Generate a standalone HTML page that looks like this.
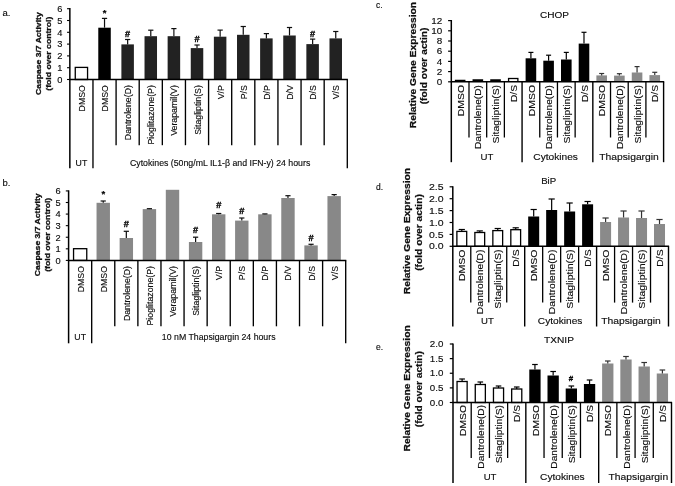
<!DOCTYPE html>
<html>
<head>
<meta charset="utf-8">
<title>Figure</title>
<style>
html, body { margin: 0; padding: 0; background: #fff; }
body { width: 675px; height: 486px; overflow: hidden; font-family: 'Liberation Sans', sans-serif; }
svg { display: block; font-family: "Liberation Sans", sans-serif; }
</style>
</head>
<body>
<svg width="675" height="486" viewBox="0 0 675 486">
<defs><filter id="soft" x="0" y="0" width="675" height="486" filterUnits="userSpaceOnUse"><feGaussianBlur stdDeviation="0.3"/></filter></defs>
<rect x="0" y="0" width="675" height="486" fill="#ffffff"/>
<g filter="url(#soft)">
<text x="2.50" y="16.00" font-size="9.5" text-anchor="start" stroke="#0a0a0a" stroke-width="0.12" fill="#0a0a0a">a.</text>
<rect x="75.26" y="67.40" width="12.30" height="12.10" fill="#fff" stroke="#000" stroke-width="1.3"/>
<rect x="98.28" y="27.70" width="12.50" height="51.80" fill="#000"/>
<line x1="104.53" y1="18.40" x2="104.53" y2="27.70" stroke="#111" stroke-width="1.2"/>
<line x1="101.93" y1="18.40" x2="107.13" y2="18.40" stroke="#111" stroke-width="1.2"/>
<text x="104.53" y="15.70" font-size="9.5" text-anchor="middle" font-weight="bold" stroke="#000" stroke-width="0.2" fill="#000">*</text>
<rect x="121.40" y="44.40" width="12.50" height="35.10" fill="#222"/>
<line x1="127.65" y1="39.50" x2="127.65" y2="44.40" stroke="#111" stroke-width="1.2"/>
<line x1="125.05" y1="39.50" x2="130.25" y2="39.50" stroke="#111" stroke-width="1.2"/>
<text x="127.65" y="36.80" font-size="9.2" text-anchor="middle" font-weight="bold" stroke="#000" stroke-width="0.35" fill="#000">#</text>
<rect x="144.52" y="36.20" width="12.50" height="43.30" fill="#222"/>
<line x1="150.77" y1="30.20" x2="150.77" y2="36.20" stroke="#111" stroke-width="1.2"/>
<line x1="148.17" y1="30.20" x2="153.37" y2="30.20" stroke="#111" stroke-width="1.2"/>
<rect x="167.64" y="36.20" width="12.50" height="43.30" fill="#222"/>
<line x1="173.89" y1="28.60" x2="173.89" y2="36.20" stroke="#111" stroke-width="1.2"/>
<line x1="171.29" y1="28.60" x2="176.49" y2="28.60" stroke="#111" stroke-width="1.2"/>
<rect x="190.76" y="48.10" width="12.50" height="31.40" fill="#222"/>
<line x1="197.01" y1="45.00" x2="197.01" y2="48.10" stroke="#111" stroke-width="1.2"/>
<line x1="194.41" y1="45.00" x2="199.61" y2="45.00" stroke="#111" stroke-width="1.2"/>
<text x="197.01" y="41.80" font-size="9.2" text-anchor="middle" font-weight="bold" stroke="#000" stroke-width="0.35" fill="#000">#</text>
<rect x="213.89" y="36.70" width="12.50" height="42.80" fill="#222"/>
<line x1="220.14" y1="30.10" x2="220.14" y2="36.70" stroke="#111" stroke-width="1.2"/>
<line x1="217.54" y1="30.10" x2="222.74" y2="30.10" stroke="#111" stroke-width="1.2"/>
<rect x="237.01" y="34.80" width="12.50" height="44.70" fill="#222"/>
<line x1="243.26" y1="26.50" x2="243.26" y2="34.80" stroke="#111" stroke-width="1.2"/>
<line x1="240.66" y1="26.50" x2="245.86" y2="26.50" stroke="#111" stroke-width="1.2"/>
<rect x="260.13" y="38.40" width="12.50" height="41.10" fill="#222"/>
<line x1="266.38" y1="33.60" x2="266.38" y2="38.40" stroke="#111" stroke-width="1.2"/>
<line x1="263.78" y1="33.60" x2="268.98" y2="33.60" stroke="#111" stroke-width="1.2"/>
<rect x="283.25" y="35.50" width="12.50" height="44.00" fill="#222"/>
<line x1="289.50" y1="27.50" x2="289.50" y2="35.50" stroke="#111" stroke-width="1.2"/>
<line x1="286.90" y1="27.50" x2="292.10" y2="27.50" stroke="#111" stroke-width="1.2"/>
<rect x="306.37" y="44.10" width="12.50" height="35.40" fill="#222"/>
<line x1="312.62" y1="39.10" x2="312.62" y2="44.10" stroke="#111" stroke-width="1.2"/>
<line x1="310.02" y1="39.10" x2="315.22" y2="39.10" stroke="#111" stroke-width="1.2"/>
<text x="312.62" y="37.10" font-size="9.2" text-anchor="middle" font-weight="bold" stroke="#000" stroke-width="0.35" fill="#000">#</text>
<rect x="329.49" y="38.40" width="12.50" height="41.10" fill="#222"/>
<line x1="335.74" y1="31.50" x2="335.74" y2="38.40" stroke="#111" stroke-width="1.2"/>
<line x1="333.14" y1="31.50" x2="338.34" y2="31.50" stroke="#111" stroke-width="1.2"/>
<line x1="69.85" y1="8.10" x2="69.85" y2="168.20" stroke="#000" stroke-width="1.5"/>
<line x1="69.25" y1="79.50" x2="347.90" y2="79.50" stroke="#000" stroke-width="1.5"/>
<line x1="67.05" y1="79.50" x2="69.85" y2="79.50" stroke="#000" stroke-width="1.1"/>
<text x="62.45" y="82.80" font-size="9.3" text-anchor="end" stroke="#0a0a0a" stroke-width="0.12" fill="#0a0a0a">0</text>
<line x1="67.05" y1="67.70" x2="69.85" y2="67.70" stroke="#000" stroke-width="1.1"/>
<text x="62.45" y="71.00" font-size="9.3" text-anchor="end" stroke="#0a0a0a" stroke-width="0.12" fill="#0a0a0a">1</text>
<line x1="67.05" y1="55.90" x2="69.85" y2="55.90" stroke="#000" stroke-width="1.1"/>
<text x="62.45" y="59.20" font-size="9.3" text-anchor="end" stroke="#0a0a0a" stroke-width="0.12" fill="#0a0a0a">2</text>
<line x1="67.05" y1="44.10" x2="69.85" y2="44.10" stroke="#000" stroke-width="1.1"/>
<text x="62.45" y="47.40" font-size="9.3" text-anchor="end" stroke="#0a0a0a" stroke-width="0.12" fill="#0a0a0a">3</text>
<line x1="67.05" y1="32.30" x2="69.85" y2="32.30" stroke="#000" stroke-width="1.1"/>
<text x="62.45" y="35.60" font-size="9.3" text-anchor="end" stroke="#0a0a0a" stroke-width="0.12" fill="#0a0a0a">4</text>
<line x1="67.05" y1="20.50" x2="69.85" y2="20.50" stroke="#000" stroke-width="1.1"/>
<text x="62.45" y="23.80" font-size="9.3" text-anchor="end" stroke="#0a0a0a" stroke-width="0.12" fill="#0a0a0a">5</text>
<line x1="67.05" y1="8.70" x2="69.85" y2="8.70" stroke="#000" stroke-width="1.1"/>
<text x="62.45" y="12.00" font-size="9.3" text-anchor="end" stroke="#0a0a0a" stroke-width="0.12" fill="#0a0a0a">6</text>
<line x1="92.97" y1="79.50" x2="92.97" y2="168.20" stroke="#000" stroke-width="1.35"/>
<line x1="116.09" y1="79.50" x2="116.09" y2="145.20" stroke="#000" stroke-width="1.35"/>
<line x1="139.21" y1="79.50" x2="139.21" y2="145.20" stroke="#000" stroke-width="1.35"/>
<line x1="162.33" y1="79.50" x2="162.33" y2="145.20" stroke="#000" stroke-width="1.35"/>
<line x1="185.45" y1="79.50" x2="185.45" y2="145.20" stroke="#000" stroke-width="1.35"/>
<line x1="208.58" y1="79.50" x2="208.58" y2="145.20" stroke="#000" stroke-width="1.35"/>
<line x1="231.70" y1="79.50" x2="231.70" y2="145.20" stroke="#000" stroke-width="1.35"/>
<line x1="254.82" y1="79.50" x2="254.82" y2="145.20" stroke="#000" stroke-width="1.35"/>
<line x1="277.94" y1="79.50" x2="277.94" y2="145.20" stroke="#000" stroke-width="1.35"/>
<line x1="301.06" y1="79.50" x2="301.06" y2="145.20" stroke="#000" stroke-width="1.35"/>
<line x1="324.18" y1="79.50" x2="324.18" y2="145.20" stroke="#000" stroke-width="1.35"/>
<line x1="347.30" y1="79.50" x2="347.30" y2="168.20" stroke="#000" stroke-width="1.35"/>
<text transform="translate(84.91,85.10) rotate(-90) scale(0.915,1)" font-size="9.6" text-anchor="end" stroke="#0a0a0a" stroke-width="0.12" fill="#0a0a0a">DMSO</text>
<text transform="translate(108.03,85.10) rotate(-90) scale(0.915,1)" font-size="9.6" text-anchor="end" stroke="#0a0a0a" stroke-width="0.12" fill="#0a0a0a">DMSO</text>
<text transform="translate(131.15,85.10) rotate(-90) scale(0.915,1)" font-size="9.6" text-anchor="end" stroke="#0a0a0a" stroke-width="0.12" fill="#0a0a0a">Dantrolene(D)</text>
<text transform="translate(154.27,85.10) rotate(-90) scale(0.915,1)" font-size="9.6" text-anchor="end" stroke="#0a0a0a" stroke-width="0.12" fill="#0a0a0a">Pioglitazone(P)</text>
<text transform="translate(177.39,85.10) rotate(-90) scale(0.915,1)" font-size="9.6" text-anchor="end" stroke="#0a0a0a" stroke-width="0.12" fill="#0a0a0a">Verapamil(V)</text>
<text transform="translate(200.51,85.10) rotate(-90) scale(0.915,1)" font-size="9.6" text-anchor="end" stroke="#0a0a0a" stroke-width="0.12" fill="#0a0a0a">Sitagliptin(S)</text>
<text transform="translate(223.64,85.10) rotate(-90) scale(0.915,1)" font-size="9.6" text-anchor="end" stroke="#0a0a0a" stroke-width="0.12" fill="#0a0a0a">V/P</text>
<text transform="translate(246.76,85.10) rotate(-90) scale(0.915,1)" font-size="9.6" text-anchor="end" stroke="#0a0a0a" stroke-width="0.12" fill="#0a0a0a">P/S</text>
<text transform="translate(269.88,85.10) rotate(-90) scale(0.915,1)" font-size="9.6" text-anchor="end" stroke="#0a0a0a" stroke-width="0.12" fill="#0a0a0a">D/P</text>
<text transform="translate(293.00,85.10) rotate(-90) scale(0.915,1)" font-size="9.6" text-anchor="end" stroke="#0a0a0a" stroke-width="0.12" fill="#0a0a0a">D/V</text>
<text transform="translate(316.12,85.10) rotate(-90) scale(0.915,1)" font-size="9.6" text-anchor="end" stroke="#0a0a0a" stroke-width="0.12" fill="#0a0a0a">D/S</text>
<text transform="translate(339.24,85.10) rotate(-90) scale(0.915,1)" font-size="9.6" text-anchor="end" stroke="#0a0a0a" stroke-width="0.12" fill="#0a0a0a">V/S</text>
<text x="81.41" y="165.60" font-size="8.75" text-anchor="middle" stroke="#0a0a0a" stroke-width="0.12" fill="#0a0a0a">UT</text>
<text x="220.14" y="165.60" font-size="8.75" text-anchor="middle" stroke="#0a0a0a" stroke-width="0.12" fill="#0a0a0a">Cytokines (50ng/mL IL1-&#946; and IFN-y) 24 hours</text>
<text transform="translate(41.00,53.70) rotate(-90)" font-size="8.1" text-anchor="middle" font-weight="bold" stroke="#111" stroke-width="0.3" textLength="82.70" lengthAdjust="spacingAndGlyphs" fill="#111">Caspase 3/7 Activity</text>
<text transform="translate(51.10,53.70) rotate(-90)" font-size="8.1" text-anchor="middle" font-weight="bold" stroke="#111" stroke-width="0.3" textLength="74.00" lengthAdjust="spacingAndGlyphs" fill="#111">(fold over control)</text>
<text x="2.50" y="186.30" font-size="9.5" text-anchor="start" stroke="#0a0a0a" stroke-width="0.12" fill="#0a0a0a">b.</text>
<rect x="73.55" y="248.70" width="13.20" height="11.70" fill="#fff" stroke="#000" stroke-width="1.3"/>
<rect x="96.54" y="202.80" width="13.40" height="57.60" fill="#888888"/>
<line x1="103.24" y1="201.00" x2="103.24" y2="202.80" stroke="#111" stroke-width="1.2"/>
<line x1="100.64" y1="201.00" x2="105.84" y2="201.00" stroke="#111" stroke-width="1.2"/>
<text x="103.24" y="197.20" font-size="9.5" text-anchor="middle" font-weight="bold" stroke="#000" stroke-width="0.2" fill="#000">*</text>
<rect x="119.63" y="238.00" width="13.40" height="22.40" fill="#888888"/>
<line x1="126.33" y1="231.30" x2="126.33" y2="238.00" stroke="#111" stroke-width="1.2"/>
<line x1="123.73" y1="231.30" x2="128.93" y2="231.30" stroke="#111" stroke-width="1.2"/>
<text x="126.33" y="226.80" font-size="9.2" text-anchor="middle" font-weight="bold" stroke="#000" stroke-width="0.35" fill="#000">#</text>
<rect x="142.72" y="209.10" width="13.40" height="51.30" fill="#888888"/>
<line x1="149.42" y1="208.70" x2="149.42" y2="209.10" stroke="#111" stroke-width="1.2"/>
<line x1="146.82" y1="208.70" x2="152.02" y2="208.70" stroke="#111" stroke-width="1.2"/>
<rect x="165.81" y="189.80" width="13.40" height="70.60" fill="#888888"/>
<rect x="188.90" y="242.00" width="13.40" height="18.40" fill="#888888"/>
<line x1="195.60" y1="237.20" x2="195.60" y2="242.00" stroke="#111" stroke-width="1.2"/>
<line x1="193.00" y1="237.20" x2="198.20" y2="237.20" stroke="#111" stroke-width="1.2"/>
<text x="195.60" y="232.60" font-size="9.2" text-anchor="middle" font-weight="bold" stroke="#000" stroke-width="0.35" fill="#000">#</text>
<rect x="212.00" y="214.30" width="13.40" height="46.10" fill="#888888"/>
<line x1="218.70" y1="213.50" x2="218.70" y2="214.30" stroke="#111" stroke-width="1.2"/>
<line x1="216.10" y1="213.50" x2="221.30" y2="213.50" stroke="#111" stroke-width="1.2"/>
<text x="218.70" y="208.20" font-size="9.2" text-anchor="middle" font-weight="bold" stroke="#000" stroke-width="0.35" fill="#000">#</text>
<rect x="235.09" y="220.60" width="13.40" height="39.80" fill="#888888"/>
<line x1="241.79" y1="218.00" x2="241.79" y2="220.60" stroke="#111" stroke-width="1.2"/>
<line x1="239.19" y1="218.00" x2="244.39" y2="218.00" stroke="#111" stroke-width="1.2"/>
<text x="241.79" y="214.10" font-size="9.2" text-anchor="middle" font-weight="bold" stroke="#000" stroke-width="0.35" fill="#000">#</text>
<rect x="258.18" y="214.30" width="13.40" height="46.10" fill="#888888"/>
<line x1="264.88" y1="213.90" x2="264.88" y2="214.30" stroke="#111" stroke-width="1.2"/>
<line x1="262.28" y1="213.90" x2="267.48" y2="213.90" stroke="#111" stroke-width="1.2"/>
<rect x="281.27" y="198.00" width="13.40" height="62.40" fill="#888888"/>
<line x1="287.97" y1="195.70" x2="287.97" y2="198.00" stroke="#111" stroke-width="1.2"/>
<line x1="285.37" y1="195.70" x2="290.57" y2="195.70" stroke="#111" stroke-width="1.2"/>
<rect x="304.36" y="245.40" width="13.40" height="15.00" fill="#888888"/>
<line x1="311.06" y1="244.30" x2="311.06" y2="245.40" stroke="#111" stroke-width="1.2"/>
<line x1="308.46" y1="244.30" x2="313.66" y2="244.30" stroke="#111" stroke-width="1.2"/>
<text x="311.06" y="240.80" font-size="9.2" text-anchor="middle" font-weight="bold" stroke="#000" stroke-width="0.35" fill="#000">#</text>
<rect x="327.45" y="196.10" width="13.40" height="64.30" fill="#888888"/>
<line x1="334.15" y1="194.60" x2="334.15" y2="196.10" stroke="#111" stroke-width="1.2"/>
<line x1="331.55" y1="194.60" x2="336.75" y2="194.60" stroke="#111" stroke-width="1.2"/>
<line x1="68.60" y1="190.32" x2="68.60" y2="343.30" stroke="#000" stroke-width="1.5"/>
<line x1="68.00" y1="260.40" x2="346.30" y2="260.40" stroke="#000" stroke-width="1.5"/>
<line x1="65.80" y1="260.40" x2="68.60" y2="260.40" stroke="#000" stroke-width="1.1"/>
<text x="60.60" y="263.70" font-size="9.3" text-anchor="end" stroke="#0a0a0a" stroke-width="0.12" fill="#0a0a0a">0</text>
<line x1="65.80" y1="248.82" x2="68.60" y2="248.82" stroke="#000" stroke-width="1.1"/>
<text x="60.60" y="252.12" font-size="9.3" text-anchor="end" stroke="#0a0a0a" stroke-width="0.12" fill="#0a0a0a">1</text>
<line x1="65.80" y1="237.24" x2="68.60" y2="237.24" stroke="#000" stroke-width="1.1"/>
<text x="60.60" y="240.54" font-size="9.3" text-anchor="end" stroke="#0a0a0a" stroke-width="0.12" fill="#0a0a0a">2</text>
<line x1="65.80" y1="225.66" x2="68.60" y2="225.66" stroke="#000" stroke-width="1.1"/>
<text x="60.60" y="228.96" font-size="9.3" text-anchor="end" stroke="#0a0a0a" stroke-width="0.12" fill="#0a0a0a">3</text>
<line x1="65.80" y1="214.08" x2="68.60" y2="214.08" stroke="#000" stroke-width="1.1"/>
<text x="60.60" y="217.38" font-size="9.3" text-anchor="end" stroke="#0a0a0a" stroke-width="0.12" fill="#0a0a0a">4</text>
<line x1="65.80" y1="202.50" x2="68.60" y2="202.50" stroke="#000" stroke-width="1.1"/>
<text x="60.60" y="205.80" font-size="9.3" text-anchor="end" stroke="#0a0a0a" stroke-width="0.12" fill="#0a0a0a">5</text>
<line x1="65.80" y1="190.92" x2="68.60" y2="190.92" stroke="#000" stroke-width="1.1"/>
<text x="60.60" y="194.22" font-size="9.3" text-anchor="end" stroke="#0a0a0a" stroke-width="0.12" fill="#0a0a0a">6</text>
<line x1="91.69" y1="260.40" x2="91.69" y2="343.30" stroke="#000" stroke-width="1.35"/>
<line x1="114.78" y1="260.40" x2="114.78" y2="326.30" stroke="#000" stroke-width="1.35"/>
<line x1="137.88" y1="260.40" x2="137.88" y2="326.30" stroke="#000" stroke-width="1.35"/>
<line x1="160.97" y1="260.40" x2="160.97" y2="326.30" stroke="#000" stroke-width="1.35"/>
<line x1="184.06" y1="260.40" x2="184.06" y2="326.30" stroke="#000" stroke-width="1.35"/>
<line x1="207.15" y1="260.40" x2="207.15" y2="326.30" stroke="#000" stroke-width="1.35"/>
<line x1="230.24" y1="260.40" x2="230.24" y2="326.30" stroke="#000" stroke-width="1.35"/>
<line x1="253.33" y1="260.40" x2="253.33" y2="326.30" stroke="#000" stroke-width="1.35"/>
<line x1="276.43" y1="260.40" x2="276.43" y2="326.30" stroke="#000" stroke-width="1.35"/>
<line x1="299.52" y1="260.40" x2="299.52" y2="326.30" stroke="#000" stroke-width="1.35"/>
<line x1="322.61" y1="260.40" x2="322.61" y2="326.30" stroke="#000" stroke-width="1.35"/>
<line x1="345.70" y1="260.40" x2="345.70" y2="343.30" stroke="#000" stroke-width="1.35"/>
<text transform="translate(83.65,266.00) rotate(-90) scale(0.915,1)" font-size="9.6" text-anchor="end" stroke="#0a0a0a" stroke-width="0.12" fill="#0a0a0a">DMSO</text>
<text transform="translate(106.74,266.00) rotate(-90) scale(0.915,1)" font-size="9.6" text-anchor="end" stroke="#0a0a0a" stroke-width="0.12" fill="#0a0a0a">DMSO</text>
<text transform="translate(129.83,266.00) rotate(-90) scale(0.915,1)" font-size="9.6" text-anchor="end" stroke="#0a0a0a" stroke-width="0.12" fill="#0a0a0a">Dantrolene(D)</text>
<text transform="translate(152.92,266.00) rotate(-90) scale(0.915,1)" font-size="9.6" text-anchor="end" stroke="#0a0a0a" stroke-width="0.12" fill="#0a0a0a">Pioglitazone(P)</text>
<text transform="translate(176.01,266.00) rotate(-90) scale(0.915,1)" font-size="9.6" text-anchor="end" stroke="#0a0a0a" stroke-width="0.12" fill="#0a0a0a">Verapamil(V)</text>
<text transform="translate(199.10,266.00) rotate(-90) scale(0.915,1)" font-size="9.6" text-anchor="end" stroke="#0a0a0a" stroke-width="0.12" fill="#0a0a0a">Sitagliptin(S)</text>
<text transform="translate(222.20,266.00) rotate(-90) scale(0.915,1)" font-size="9.6" text-anchor="end" stroke="#0a0a0a" stroke-width="0.12" fill="#0a0a0a">V/P</text>
<text transform="translate(245.29,266.00) rotate(-90) scale(0.915,1)" font-size="9.6" text-anchor="end" stroke="#0a0a0a" stroke-width="0.12" fill="#0a0a0a">P/S</text>
<text transform="translate(268.38,266.00) rotate(-90) scale(0.915,1)" font-size="9.6" text-anchor="end" stroke="#0a0a0a" stroke-width="0.12" fill="#0a0a0a">D/P</text>
<text transform="translate(291.47,266.00) rotate(-90) scale(0.915,1)" font-size="9.6" text-anchor="end" stroke="#0a0a0a" stroke-width="0.12" fill="#0a0a0a">D/V</text>
<text transform="translate(314.56,266.00) rotate(-90) scale(0.915,1)" font-size="9.6" text-anchor="end" stroke="#0a0a0a" stroke-width="0.12" fill="#0a0a0a">D/S</text>
<text transform="translate(337.65,266.00) rotate(-90) scale(0.915,1)" font-size="9.6" text-anchor="end" stroke="#0a0a0a" stroke-width="0.12" fill="#0a0a0a">V/S</text>
<text x="80.15" y="339.70" font-size="8.75" text-anchor="middle" stroke="#0a0a0a" stroke-width="0.12" fill="#0a0a0a">UT</text>
<text x="218.70" y="339.70" font-size="8.75" text-anchor="middle" stroke="#0a0a0a" stroke-width="0.12" fill="#0a0a0a">10 nM Thapsigargin 24 hours</text>
<text transform="translate(39.70,234.80) rotate(-90)" font-size="8.1" text-anchor="middle" font-weight="bold" stroke="#111" stroke-width="0.3" textLength="82.70" lengthAdjust="spacingAndGlyphs" fill="#111">Caspase 3/7 Activity</text>
<text transform="translate(49.90,234.80) rotate(-90)" font-size="8.1" text-anchor="middle" font-weight="bold" stroke="#111" stroke-width="0.3" textLength="74.00" lengthAdjust="spacingAndGlyphs" fill="#111">(fold over control)</text>
<text x="376.00" y="8.00" font-size="8.5" text-anchor="start" stroke="#0a0a0a" stroke-width="0.12" fill="#0a0a0a">c.</text>
<text x="554.50" y="18.20" font-size="9" text-anchor="middle" stroke="#0a0a0a" stroke-width="0.12" textLength="29.00" lengthAdjust="spacingAndGlyphs" fill="#0a0a0a">CHOP</text>
<rect x="454.85" y="79.75" width="10.60" height="2.05" fill="#000"/>
<rect x="472.54" y="79.25" width="10.60" height="2.55" fill="#000"/>
<rect x="490.23" y="79.25" width="10.60" height="2.55" fill="#000"/>
<rect x="507.92" y="77.85" width="10.60" height="3.95" fill="#000"/>
<rect x="509.22" y="79.15" width="8.00" height="2.00" fill="#fff"/>
<rect x="525.61" y="58.30" width="10.60" height="23.50" fill="#000"/>
<line x1="530.91" y1="52.40" x2="530.91" y2="58.30" stroke="#000" stroke-width="1.2"/>
<line x1="528.41" y1="52.40" x2="533.41" y2="52.40" stroke="#000" stroke-width="1.2"/>
<rect x="543.30" y="60.70" width="10.60" height="21.10" fill="#000"/>
<line x1="548.60" y1="55.20" x2="548.60" y2="60.70" stroke="#000" stroke-width="1.2"/>
<line x1="546.10" y1="55.20" x2="551.10" y2="55.20" stroke="#000" stroke-width="1.2"/>
<rect x="561.00" y="59.50" width="10.60" height="22.30" fill="#000"/>
<line x1="566.30" y1="52.40" x2="566.30" y2="59.50" stroke="#000" stroke-width="1.2"/>
<line x1="563.80" y1="52.40" x2="568.80" y2="52.40" stroke="#000" stroke-width="1.2"/>
<rect x="578.69" y="43.60" width="10.60" height="38.20" fill="#000"/>
<line x1="583.99" y1="32.30" x2="583.99" y2="43.60" stroke="#000" stroke-width="1.2"/>
<line x1="581.49" y1="32.30" x2="586.49" y2="32.30" stroke="#000" stroke-width="1.2"/>
<rect x="596.38" y="75.40" width="10.60" height="6.40" fill="#8a8a8a"/>
<line x1="601.68" y1="73.50" x2="601.68" y2="75.40" stroke="#333" stroke-width="1.2"/>
<line x1="599.18" y1="73.50" x2="604.18" y2="73.50" stroke="#333" stroke-width="1.2"/>
<rect x="614.07" y="75.60" width="10.60" height="6.20" fill="#8a8a8a"/>
<line x1="619.37" y1="73.70" x2="619.37" y2="75.60" stroke="#333" stroke-width="1.2"/>
<line x1="616.87" y1="73.70" x2="621.87" y2="73.70" stroke="#333" stroke-width="1.2"/>
<rect x="631.76" y="72.50" width="10.60" height="9.30" fill="#8a8a8a"/>
<line x1="637.06" y1="66.60" x2="637.06" y2="72.50" stroke="#333" stroke-width="1.2"/>
<line x1="634.56" y1="66.60" x2="639.56" y2="66.60" stroke="#333" stroke-width="1.2"/>
<rect x="649.45" y="75.10" width="10.60" height="6.70" fill="#8a8a8a"/>
<line x1="654.75" y1="72.30" x2="654.75" y2="75.10" stroke="#333" stroke-width="1.2"/>
<line x1="652.25" y1="72.30" x2="657.25" y2="72.30" stroke="#333" stroke-width="1.2"/>
<line x1="451.30" y1="20.00" x2="451.30" y2="162.20" stroke="#000" stroke-width="1.5"/>
<line x1="450.70" y1="81.80" x2="664.20" y2="81.80" stroke="#000" stroke-width="1.5"/>
<line x1="448.10" y1="81.80" x2="451.30" y2="81.80" stroke="#000" stroke-width="1.2"/>
<text x="442.30" y="84.90" font-size="9.6" text-anchor="end" stroke="#0a0a0a" stroke-width="0.12" textLength="5.50" lengthAdjust="spacingAndGlyphs" fill="#0a0a0a">0</text>
<line x1="448.10" y1="71.60" x2="451.30" y2="71.60" stroke="#000" stroke-width="1.2"/>
<text x="442.30" y="74.70" font-size="9.6" text-anchor="end" stroke="#0a0a0a" stroke-width="0.12" textLength="5.50" lengthAdjust="spacingAndGlyphs" fill="#0a0a0a">2</text>
<line x1="448.10" y1="61.40" x2="451.30" y2="61.40" stroke="#000" stroke-width="1.2"/>
<text x="442.30" y="64.50" font-size="9.6" text-anchor="end" stroke="#0a0a0a" stroke-width="0.12" textLength="5.50" lengthAdjust="spacingAndGlyphs" fill="#0a0a0a">4</text>
<line x1="448.10" y1="51.20" x2="451.30" y2="51.20" stroke="#000" stroke-width="1.2"/>
<text x="442.30" y="54.30" font-size="9.6" text-anchor="end" stroke="#0a0a0a" stroke-width="0.12" textLength="5.50" lengthAdjust="spacingAndGlyphs" fill="#0a0a0a">6</text>
<line x1="448.10" y1="41.00" x2="451.30" y2="41.00" stroke="#000" stroke-width="1.2"/>
<text x="442.30" y="44.10" font-size="9.6" text-anchor="end" stroke="#0a0a0a" stroke-width="0.12" textLength="5.50" lengthAdjust="spacingAndGlyphs" fill="#0a0a0a">8</text>
<line x1="448.10" y1="30.80" x2="451.30" y2="30.80" stroke="#000" stroke-width="1.2"/>
<text x="442.30" y="33.90" font-size="9.6" text-anchor="end" stroke="#0a0a0a" stroke-width="0.12" textLength="11.00" lengthAdjust="spacingAndGlyphs" fill="#0a0a0a">10</text>
<line x1="448.10" y1="20.60" x2="451.30" y2="20.60" stroke="#000" stroke-width="1.2"/>
<text x="442.30" y="23.70" font-size="9.6" text-anchor="end" stroke="#0a0a0a" stroke-width="0.12" textLength="11.00" lengthAdjust="spacingAndGlyphs" fill="#0a0a0a">12</text>
<line x1="468.99" y1="81.80" x2="468.99" y2="137.50" stroke="#000" stroke-width="1.3"/>
<line x1="486.68" y1="81.80" x2="486.68" y2="137.50" stroke="#000" stroke-width="1.3"/>
<line x1="504.38" y1="81.80" x2="504.38" y2="137.50" stroke="#000" stroke-width="1.3"/>
<line x1="522.07" y1="81.80" x2="522.07" y2="162.20" stroke="#000" stroke-width="1.4"/>
<line x1="539.76" y1="81.80" x2="539.76" y2="137.50" stroke="#000" stroke-width="1.3"/>
<line x1="557.45" y1="81.80" x2="557.45" y2="137.50" stroke="#000" stroke-width="1.3"/>
<line x1="575.14" y1="81.80" x2="575.14" y2="137.50" stroke="#000" stroke-width="1.3"/>
<line x1="592.83" y1="81.80" x2="592.83" y2="162.20" stroke="#000" stroke-width="1.4"/>
<line x1="610.52" y1="81.80" x2="610.52" y2="137.50" stroke="#000" stroke-width="1.3"/>
<line x1="628.22" y1="81.80" x2="628.22" y2="137.50" stroke="#000" stroke-width="1.3"/>
<line x1="645.91" y1="81.80" x2="645.91" y2="137.50" stroke="#000" stroke-width="1.3"/>
<line x1="663.60" y1="81.80" x2="663.60" y2="162.20" stroke="#000" stroke-width="1.4"/>
<text transform="translate(463.75,85.00) rotate(-90)" font-size="9.3" text-anchor="end" stroke="#0a0a0a" stroke-width="0.12" textLength="31.20" lengthAdjust="spacingAndGlyphs" fill="#0a0a0a">DMSO</text>
<text transform="translate(481.44,85.00) rotate(-90)" font-size="9.3" text-anchor="end" stroke="#0a0a0a" stroke-width="0.12" textLength="64.00" lengthAdjust="spacingAndGlyphs" fill="#0a0a0a">Dantrolene(D)</text>
<text transform="translate(499.13,85.00) rotate(-90)" font-size="9.3" text-anchor="end" stroke="#0a0a0a" stroke-width="0.12" textLength="58.60" lengthAdjust="spacingAndGlyphs" fill="#0a0a0a">Sitagliptin(S)</text>
<text transform="translate(516.82,85.00) rotate(-90)" font-size="9.3" text-anchor="end" stroke="#0a0a0a" stroke-width="0.12" textLength="17.00" lengthAdjust="spacingAndGlyphs" fill="#0a0a0a">D/S</text>
<text transform="translate(534.51,85.00) rotate(-90)" font-size="9.3" text-anchor="end" stroke="#0a0a0a" stroke-width="0.12" textLength="31.20" lengthAdjust="spacingAndGlyphs" fill="#0a0a0a">DMSO</text>
<text transform="translate(552.20,85.00) rotate(-90)" font-size="9.3" text-anchor="end" stroke="#0a0a0a" stroke-width="0.12" textLength="64.00" lengthAdjust="spacingAndGlyphs" fill="#0a0a0a">Dantrolene(D)</text>
<text transform="translate(569.90,85.00) rotate(-90)" font-size="9.3" text-anchor="end" stroke="#0a0a0a" stroke-width="0.12" textLength="58.60" lengthAdjust="spacingAndGlyphs" fill="#0a0a0a">Sitagliptin(S)</text>
<text transform="translate(587.59,85.00) rotate(-90)" font-size="9.3" text-anchor="end" stroke="#0a0a0a" stroke-width="0.12" textLength="17.00" lengthAdjust="spacingAndGlyphs" fill="#0a0a0a">D/S</text>
<text transform="translate(605.28,85.00) rotate(-90)" font-size="9.3" text-anchor="end" stroke="#0a0a0a" stroke-width="0.12" textLength="31.20" lengthAdjust="spacingAndGlyphs" fill="#0a0a0a">DMSO</text>
<text transform="translate(622.97,85.00) rotate(-90)" font-size="9.3" text-anchor="end" stroke="#0a0a0a" stroke-width="0.12" textLength="64.00" lengthAdjust="spacingAndGlyphs" fill="#0a0a0a">Dantrolene(D)</text>
<text transform="translate(640.66,85.00) rotate(-90)" font-size="9.3" text-anchor="end" stroke="#0a0a0a" stroke-width="0.12" textLength="58.60" lengthAdjust="spacingAndGlyphs" fill="#0a0a0a">Sitagliptin(S)</text>
<text transform="translate(658.35,85.00) rotate(-90)" font-size="9.3" text-anchor="end" stroke="#0a0a0a" stroke-width="0.12" textLength="17.00" lengthAdjust="spacingAndGlyphs" fill="#0a0a0a">D/S</text>
<text x="487.00" y="159.50" font-size="9.3" text-anchor="middle" stroke="#0a0a0a" stroke-width="0.12" textLength="12.80" lengthAdjust="spacingAndGlyphs" fill="#0a0a0a">UT</text>
<text x="555.60" y="159.50" font-size="9.3" text-anchor="middle" stroke="#0a0a0a" stroke-width="0.12" textLength="44.60" lengthAdjust="spacingAndGlyphs" fill="#0a0a0a">Cytokines</text>
<text x="629.00" y="159.50" font-size="9.3" text-anchor="middle" stroke="#0a0a0a" stroke-width="0.12" textLength="59.70" lengthAdjust="spacingAndGlyphs" fill="#0a0a0a">Thapsigargin</text>
<text transform="translate(416.40,65.10) rotate(-90)" font-size="9.2" text-anchor="middle" font-weight="bold" stroke="#111" stroke-width="0.25" textLength="126.30" lengthAdjust="spacingAndGlyphs" fill="#111">Relative Gene Expression</text>
<text transform="translate(427.10,65.90) rotate(-90)" font-size="9.2" text-anchor="middle" font-weight="bold" stroke="#111" stroke-width="0.2" textLength="76.80" lengthAdjust="spacingAndGlyphs" fill="#111">(fold over actin)</text>
<text x="376.00" y="189.80" font-size="8.5" text-anchor="start" stroke="#0a0a0a" stroke-width="0.12" fill="#0a0a0a">d.</text>
<text x="548.70" y="183.70" font-size="9" text-anchor="middle" stroke="#0a0a0a" stroke-width="0.12" textLength="15.00" lengthAdjust="spacingAndGlyphs" fill="#0a0a0a">BiP</text>
<rect x="456.89" y="231.40" width="9.80" height="14.90" fill="#fff" stroke="#000" stroke-width="1.3"/>
<line x1="461.79" y1="229.50" x2="461.79" y2="231.40" stroke="#000" stroke-width="1.2"/>
<line x1="458.69" y1="229.50" x2="464.89" y2="229.50" stroke="#000" stroke-width="1.2"/>
<rect x="474.86" y="232.50" width="9.80" height="13.80" fill="#fff" stroke="#000" stroke-width="1.3"/>
<line x1="479.76" y1="230.90" x2="479.76" y2="232.50" stroke="#000" stroke-width="1.2"/>
<line x1="476.66" y1="230.90" x2="482.86" y2="230.90" stroke="#000" stroke-width="1.2"/>
<rect x="492.84" y="230.60" width="9.80" height="15.70" fill="#fff" stroke="#000" stroke-width="1.3"/>
<line x1="497.74" y1="228.50" x2="497.74" y2="230.60" stroke="#000" stroke-width="1.2"/>
<line x1="494.64" y1="228.50" x2="500.84" y2="228.50" stroke="#000" stroke-width="1.2"/>
<rect x="510.81" y="229.70" width="9.80" height="16.60" fill="#fff" stroke="#000" stroke-width="1.3"/>
<line x1="515.71" y1="227.80" x2="515.71" y2="229.70" stroke="#000" stroke-width="1.2"/>
<line x1="512.61" y1="227.80" x2="518.81" y2="227.80" stroke="#000" stroke-width="1.2"/>
<rect x="528.19" y="216.50" width="11.00" height="29.80" fill="#000"/>
<line x1="533.69" y1="209.50" x2="533.69" y2="216.50" stroke="#000" stroke-width="1.2"/>
<line x1="530.59" y1="209.50" x2="536.79" y2="209.50" stroke="#000" stroke-width="1.2"/>
<rect x="546.16" y="210.00" width="11.00" height="36.30" fill="#000"/>
<line x1="551.66" y1="199.00" x2="551.66" y2="210.00" stroke="#000" stroke-width="1.2"/>
<line x1="548.56" y1="199.00" x2="554.76" y2="199.00" stroke="#000" stroke-width="1.2"/>
<rect x="564.14" y="211.50" width="11.00" height="34.80" fill="#000"/>
<line x1="569.64" y1="203.00" x2="569.64" y2="211.50" stroke="#000" stroke-width="1.2"/>
<line x1="566.54" y1="203.00" x2="572.74" y2="203.00" stroke="#000" stroke-width="1.2"/>
<rect x="582.11" y="204.30" width="11.00" height="42.00" fill="#000"/>
<line x1="587.61" y1="201.50" x2="587.61" y2="204.30" stroke="#000" stroke-width="1.2"/>
<line x1="584.51" y1="201.50" x2="590.71" y2="201.50" stroke="#000" stroke-width="1.2"/>
<rect x="600.09" y="222.00" width="11.00" height="24.30" fill="#8a8a8a"/>
<line x1="605.59" y1="218.00" x2="605.59" y2="222.00" stroke="#333" stroke-width="1.2"/>
<line x1="602.49" y1="218.00" x2="608.69" y2="218.00" stroke="#333" stroke-width="1.2"/>
<rect x="618.06" y="217.50" width="11.00" height="28.80" fill="#8a8a8a"/>
<line x1="623.56" y1="211.00" x2="623.56" y2="217.50" stroke="#333" stroke-width="1.2"/>
<line x1="620.46" y1="211.00" x2="626.66" y2="211.00" stroke="#333" stroke-width="1.2"/>
<rect x="636.04" y="218.00" width="11.00" height="28.30" fill="#8a8a8a"/>
<line x1="641.54" y1="211.00" x2="641.54" y2="218.00" stroke="#333" stroke-width="1.2"/>
<line x1="638.44" y1="211.00" x2="644.64" y2="211.00" stroke="#333" stroke-width="1.2"/>
<rect x="654.01" y="224.00" width="11.00" height="22.30" fill="#8a8a8a"/>
<line x1="659.51" y1="219.50" x2="659.51" y2="224.00" stroke="#333" stroke-width="1.2"/>
<line x1="656.41" y1="219.50" x2="662.61" y2="219.50" stroke="#333" stroke-width="1.2"/>
<line x1="452.80" y1="186.20" x2="452.80" y2="326.50" stroke="#000" stroke-width="1.5"/>
<line x1="452.20" y1="246.30" x2="669.10" y2="246.30" stroke="#000" stroke-width="1.5"/>
<line x1="449.60" y1="246.30" x2="452.80" y2="246.30" stroke="#000" stroke-width="1.2"/>
<text x="443.60" y="249.40" font-size="9.6" text-anchor="end" stroke="#0a0a0a" stroke-width="0.12" textLength="14.60" lengthAdjust="spacingAndGlyphs" fill="#0a0a0a">0.0</text>
<line x1="449.60" y1="234.40" x2="452.80" y2="234.40" stroke="#000" stroke-width="1.2"/>
<text x="443.60" y="237.50" font-size="9.6" text-anchor="end" stroke="#0a0a0a" stroke-width="0.12" textLength="14.60" lengthAdjust="spacingAndGlyphs" fill="#0a0a0a">0.5</text>
<line x1="449.60" y1="222.50" x2="452.80" y2="222.50" stroke="#000" stroke-width="1.2"/>
<text x="443.60" y="225.60" font-size="9.6" text-anchor="end" stroke="#0a0a0a" stroke-width="0.12" textLength="14.60" lengthAdjust="spacingAndGlyphs" fill="#0a0a0a">1.0</text>
<line x1="449.60" y1="210.60" x2="452.80" y2="210.60" stroke="#000" stroke-width="1.2"/>
<text x="443.60" y="213.70" font-size="9.6" text-anchor="end" stroke="#0a0a0a" stroke-width="0.12" textLength="14.60" lengthAdjust="spacingAndGlyphs" fill="#0a0a0a">1.5</text>
<line x1="449.60" y1="198.70" x2="452.80" y2="198.70" stroke="#000" stroke-width="1.2"/>
<text x="443.60" y="201.80" font-size="9.6" text-anchor="end" stroke="#0a0a0a" stroke-width="0.12" textLength="14.60" lengthAdjust="spacingAndGlyphs" fill="#0a0a0a">2.0</text>
<line x1="449.60" y1="186.80" x2="452.80" y2="186.80" stroke="#000" stroke-width="1.2"/>
<text x="443.60" y="189.90" font-size="9.6" text-anchor="end" stroke="#0a0a0a" stroke-width="0.12" textLength="14.60" lengthAdjust="spacingAndGlyphs" fill="#0a0a0a">2.5</text>
<line x1="470.78" y1="246.30" x2="470.78" y2="302.60" stroke="#000" stroke-width="1.3"/>
<line x1="488.75" y1="246.30" x2="488.75" y2="302.60" stroke="#000" stroke-width="1.3"/>
<line x1="506.73" y1="246.30" x2="506.73" y2="302.60" stroke="#000" stroke-width="1.3"/>
<line x1="524.70" y1="246.30" x2="524.70" y2="326.50" stroke="#000" stroke-width="1.4"/>
<line x1="542.67" y1="246.30" x2="542.67" y2="302.60" stroke="#000" stroke-width="1.3"/>
<line x1="560.65" y1="246.30" x2="560.65" y2="302.60" stroke="#000" stroke-width="1.3"/>
<line x1="578.62" y1="246.30" x2="578.62" y2="302.60" stroke="#000" stroke-width="1.3"/>
<line x1="596.60" y1="246.30" x2="596.60" y2="326.50" stroke="#000" stroke-width="1.4"/>
<line x1="614.58" y1="246.30" x2="614.58" y2="302.60" stroke="#000" stroke-width="1.3"/>
<line x1="632.55" y1="246.30" x2="632.55" y2="302.60" stroke="#000" stroke-width="1.3"/>
<line x1="650.52" y1="246.30" x2="650.52" y2="302.60" stroke="#000" stroke-width="1.3"/>
<line x1="668.50" y1="246.30" x2="668.50" y2="326.50" stroke="#000" stroke-width="1.4"/>
<text transform="translate(465.39,249.50) rotate(-90)" font-size="9.3" text-anchor="end" stroke="#0a0a0a" stroke-width="0.12" textLength="31.57" lengthAdjust="spacingAndGlyphs" fill="#0a0a0a">DMSO</text>
<text transform="translate(483.36,249.50) rotate(-90)" font-size="9.3" text-anchor="end" stroke="#0a0a0a" stroke-width="0.12" textLength="64.77" lengthAdjust="spacingAndGlyphs" fill="#0a0a0a">Dantrolene(D)</text>
<text transform="translate(501.34,249.50) rotate(-90)" font-size="9.3" text-anchor="end" stroke="#0a0a0a" stroke-width="0.12" textLength="59.30" lengthAdjust="spacingAndGlyphs" fill="#0a0a0a">Sitagliptin(S)</text>
<text transform="translate(519.31,249.50) rotate(-90)" font-size="9.3" text-anchor="end" stroke="#0a0a0a" stroke-width="0.12" textLength="17.20" lengthAdjust="spacingAndGlyphs" fill="#0a0a0a">D/S</text>
<text transform="translate(537.29,249.50) rotate(-90)" font-size="9.3" text-anchor="end" stroke="#0a0a0a" stroke-width="0.12" textLength="31.57" lengthAdjust="spacingAndGlyphs" fill="#0a0a0a">DMSO</text>
<text transform="translate(555.26,249.50) rotate(-90)" font-size="9.3" text-anchor="end" stroke="#0a0a0a" stroke-width="0.12" textLength="64.77" lengthAdjust="spacingAndGlyphs" fill="#0a0a0a">Dantrolene(D)</text>
<text transform="translate(573.24,249.50) rotate(-90)" font-size="9.3" text-anchor="end" stroke="#0a0a0a" stroke-width="0.12" textLength="59.30" lengthAdjust="spacingAndGlyphs" fill="#0a0a0a">Sitagliptin(S)</text>
<text transform="translate(591.21,249.50) rotate(-90)" font-size="9.3" text-anchor="end" stroke="#0a0a0a" stroke-width="0.12" textLength="17.20" lengthAdjust="spacingAndGlyphs" fill="#0a0a0a">D/S</text>
<text transform="translate(609.19,249.50) rotate(-90)" font-size="9.3" text-anchor="end" stroke="#0a0a0a" stroke-width="0.12" textLength="31.57" lengthAdjust="spacingAndGlyphs" fill="#0a0a0a">DMSO</text>
<text transform="translate(627.16,249.50) rotate(-90)" font-size="9.3" text-anchor="end" stroke="#0a0a0a" stroke-width="0.12" textLength="64.77" lengthAdjust="spacingAndGlyphs" fill="#0a0a0a">Dantrolene(D)</text>
<text transform="translate(645.14,249.50) rotate(-90)" font-size="9.3" text-anchor="end" stroke="#0a0a0a" stroke-width="0.12" textLength="59.30" lengthAdjust="spacingAndGlyphs" fill="#0a0a0a">Sitagliptin(S)</text>
<text transform="translate(663.11,249.50) rotate(-90)" font-size="9.3" text-anchor="end" stroke="#0a0a0a" stroke-width="0.12" textLength="17.20" lengthAdjust="spacingAndGlyphs" fill="#0a0a0a">D/S</text>
<text x="487.50" y="323.60" font-size="9.3" text-anchor="middle" stroke="#0a0a0a" stroke-width="0.12" textLength="12.80" lengthAdjust="spacingAndGlyphs" fill="#0a0a0a">UT</text>
<text x="560.10" y="323.60" font-size="9.3" text-anchor="middle" stroke="#0a0a0a" stroke-width="0.12" textLength="44.60" lengthAdjust="spacingAndGlyphs" fill="#0a0a0a">Cytokines</text>
<text x="631.00" y="323.60" font-size="9.3" text-anchor="middle" stroke="#0a0a0a" stroke-width="0.12" textLength="59.70" lengthAdjust="spacingAndGlyphs" fill="#0a0a0a">Thapsigargin</text>
<text transform="translate(409.80,231.00) rotate(-90)" font-size="9.2" text-anchor="middle" font-weight="bold" stroke="#111" stroke-width="0.25" textLength="126.30" lengthAdjust="spacingAndGlyphs" fill="#111">Relative Gene Expression</text>
<text transform="translate(422.20,232.50) rotate(-90)" font-size="9.2" text-anchor="middle" font-weight="bold" stroke="#111" stroke-width="0.2" textLength="76.60" lengthAdjust="spacingAndGlyphs" fill="#111">(fold over actin)</text>
<text x="376.00" y="350.00" font-size="8.5" text-anchor="start" stroke="#0a0a0a" stroke-width="0.12" fill="#0a0a0a">e.</text>
<text x="559.00" y="343.20" font-size="9" text-anchor="middle" stroke="#0a0a0a" stroke-width="0.12" textLength="29.80" lengthAdjust="spacingAndGlyphs" fill="#0a0a0a">TXNIP</text>
<rect x="457.05" y="381.50" width="10.10" height="21.00" fill="#fff" stroke="#000" stroke-width="1.3"/>
<line x1="462.10" y1="379.00" x2="462.10" y2="381.50" stroke="#000" stroke-width="1.2"/>
<line x1="459.30" y1="379.00" x2="464.90" y2="379.00" stroke="#000" stroke-width="1.2"/>
<rect x="475.26" y="384.50" width="10.10" height="18.00" fill="#fff" stroke="#000" stroke-width="1.3"/>
<line x1="480.31" y1="382.00" x2="480.31" y2="384.50" stroke="#000" stroke-width="1.2"/>
<line x1="477.51" y1="382.00" x2="483.11" y2="382.00" stroke="#000" stroke-width="1.2"/>
<rect x="493.47" y="388.00" width="10.10" height="14.50" fill="#fff" stroke="#000" stroke-width="1.3"/>
<line x1="498.52" y1="386.00" x2="498.52" y2="388.00" stroke="#000" stroke-width="1.2"/>
<line x1="495.72" y1="386.00" x2="501.32" y2="386.00" stroke="#000" stroke-width="1.2"/>
<rect x="511.68" y="389.00" width="10.10" height="13.50" fill="#fff" stroke="#000" stroke-width="1.3"/>
<line x1="516.73" y1="387.00" x2="516.73" y2="389.00" stroke="#000" stroke-width="1.2"/>
<line x1="513.93" y1="387.00" x2="519.53" y2="387.00" stroke="#000" stroke-width="1.2"/>
<rect x="529.29" y="369.50" width="11.30" height="33.00" fill="#000"/>
<line x1="534.94" y1="364.50" x2="534.94" y2="369.50" stroke="#000" stroke-width="1.2"/>
<line x1="532.14" y1="364.50" x2="537.74" y2="364.50" stroke="#000" stroke-width="1.2"/>
<rect x="547.50" y="375.50" width="11.30" height="27.00" fill="#000"/>
<line x1="553.15" y1="371.50" x2="553.15" y2="375.50" stroke="#000" stroke-width="1.2"/>
<line x1="550.35" y1="371.50" x2="555.95" y2="371.50" stroke="#000" stroke-width="1.2"/>
<rect x="565.70" y="388.50" width="11.30" height="14.00" fill="#000"/>
<line x1="571.35" y1="386.00" x2="571.35" y2="388.50" stroke="#000" stroke-width="1.2"/>
<line x1="568.55" y1="386.00" x2="574.15" y2="386.00" stroke="#000" stroke-width="1.2"/>
<text x="570.95" y="381.00" font-size="7.8" text-anchor="middle" font-weight="bold" stroke="#000" stroke-width="0.35" fill="#000">#</text>
<rect x="583.91" y="384.00" width="11.30" height="18.50" fill="#000"/>
<line x1="589.56" y1="380.00" x2="589.56" y2="384.00" stroke="#000" stroke-width="1.2"/>
<line x1="586.76" y1="380.00" x2="592.36" y2="380.00" stroke="#000" stroke-width="1.2"/>
<rect x="602.12" y="363.50" width="11.30" height="39.00" fill="#8a8a8a"/>
<line x1="607.77" y1="361.00" x2="607.77" y2="363.50" stroke="#333" stroke-width="1.2"/>
<line x1="604.97" y1="361.00" x2="610.57" y2="361.00" stroke="#333" stroke-width="1.2"/>
<rect x="620.33" y="359.50" width="11.30" height="43.00" fill="#8a8a8a"/>
<line x1="625.98" y1="356.50" x2="625.98" y2="359.50" stroke="#333" stroke-width="1.2"/>
<line x1="623.18" y1="356.50" x2="628.78" y2="356.50" stroke="#333" stroke-width="1.2"/>
<rect x="638.54" y="366.50" width="11.30" height="36.00" fill="#8a8a8a"/>
<line x1="644.19" y1="362.50" x2="644.19" y2="366.50" stroke="#333" stroke-width="1.2"/>
<line x1="641.39" y1="362.50" x2="646.99" y2="362.50" stroke="#333" stroke-width="1.2"/>
<rect x="656.75" y="373.50" width="11.30" height="29.00" fill="#8a8a8a"/>
<line x1="662.40" y1="370.00" x2="662.40" y2="373.50" stroke="#333" stroke-width="1.2"/>
<line x1="659.60" y1="370.00" x2="665.20" y2="370.00" stroke="#333" stroke-width="1.2"/>
<line x1="453.00" y1="343.40" x2="453.00" y2="483.00" stroke="#000" stroke-width="1.5"/>
<line x1="452.40" y1="402.50" x2="672.10" y2="402.50" stroke="#000" stroke-width="1.5"/>
<line x1="449.80" y1="402.50" x2="453.00" y2="402.50" stroke="#000" stroke-width="1.2"/>
<text x="443.40" y="405.60" font-size="9.6" text-anchor="end" stroke="#0a0a0a" stroke-width="0.12" textLength="13.60" lengthAdjust="spacingAndGlyphs" fill="#0a0a0a">0.0</text>
<line x1="449.80" y1="387.88" x2="453.00" y2="387.88" stroke="#000" stroke-width="1.2"/>
<text x="443.40" y="390.98" font-size="9.6" text-anchor="end" stroke="#0a0a0a" stroke-width="0.12" textLength="13.60" lengthAdjust="spacingAndGlyphs" fill="#0a0a0a">0.5</text>
<line x1="449.80" y1="373.25" x2="453.00" y2="373.25" stroke="#000" stroke-width="1.2"/>
<text x="443.40" y="376.35" font-size="9.6" text-anchor="end" stroke="#0a0a0a" stroke-width="0.12" textLength="13.60" lengthAdjust="spacingAndGlyphs" fill="#0a0a0a">1.0</text>
<line x1="449.80" y1="358.62" x2="453.00" y2="358.62" stroke="#000" stroke-width="1.2"/>
<text x="443.40" y="361.73" font-size="9.6" text-anchor="end" stroke="#0a0a0a" stroke-width="0.12" textLength="13.60" lengthAdjust="spacingAndGlyphs" fill="#0a0a0a">1.5</text>
<line x1="449.80" y1="344.00" x2="453.00" y2="344.00" stroke="#000" stroke-width="1.2"/>
<text x="443.40" y="347.10" font-size="9.6" text-anchor="end" stroke="#0a0a0a" stroke-width="0.12" textLength="13.60" lengthAdjust="spacingAndGlyphs" fill="#0a0a0a">2.0</text>
<line x1="471.21" y1="402.50" x2="471.21" y2="458.00" stroke="#000" stroke-width="1.3"/>
<line x1="489.42" y1="402.50" x2="489.42" y2="458.00" stroke="#000" stroke-width="1.3"/>
<line x1="507.62" y1="402.50" x2="507.62" y2="458.00" stroke="#000" stroke-width="1.3"/>
<line x1="525.83" y1="402.50" x2="525.83" y2="483.00" stroke="#000" stroke-width="1.4"/>
<line x1="544.04" y1="402.50" x2="544.04" y2="458.00" stroke="#000" stroke-width="1.3"/>
<line x1="562.25" y1="402.50" x2="562.25" y2="458.00" stroke="#000" stroke-width="1.3"/>
<line x1="580.46" y1="402.50" x2="580.46" y2="458.00" stroke="#000" stroke-width="1.3"/>
<line x1="598.67" y1="402.50" x2="598.67" y2="483.00" stroke="#000" stroke-width="1.4"/>
<line x1="616.88" y1="402.50" x2="616.88" y2="458.00" stroke="#000" stroke-width="1.3"/>
<line x1="635.08" y1="402.50" x2="635.08" y2="458.00" stroke="#000" stroke-width="1.3"/>
<line x1="653.29" y1="402.50" x2="653.29" y2="458.00" stroke="#000" stroke-width="1.3"/>
<line x1="671.50" y1="402.50" x2="671.50" y2="483.00" stroke="#000" stroke-width="1.4"/>
<text transform="translate(465.70,405.00) rotate(-90)" font-size="9.3" text-anchor="end" stroke="#0a0a0a" stroke-width="0.12" textLength="31.04" lengthAdjust="spacingAndGlyphs" fill="#0a0a0a">DMSO</text>
<text transform="translate(483.91,405.00) rotate(-90)" font-size="9.3" text-anchor="end" stroke="#0a0a0a" stroke-width="0.12" textLength="63.68" lengthAdjust="spacingAndGlyphs" fill="#0a0a0a">Dantrolene(D)</text>
<text transform="translate(502.12,405.00) rotate(-90)" font-size="9.3" text-anchor="end" stroke="#0a0a0a" stroke-width="0.12" textLength="58.31" lengthAdjust="spacingAndGlyphs" fill="#0a0a0a">Sitagliptin(S)</text>
<text transform="translate(520.33,405.00) rotate(-90)" font-size="9.3" text-anchor="end" stroke="#0a0a0a" stroke-width="0.12" textLength="16.91" lengthAdjust="spacingAndGlyphs" fill="#0a0a0a">D/S</text>
<text transform="translate(538.54,405.00) rotate(-90)" font-size="9.3" text-anchor="end" stroke="#0a0a0a" stroke-width="0.12" textLength="31.04" lengthAdjust="spacingAndGlyphs" fill="#0a0a0a">DMSO</text>
<text transform="translate(556.75,405.00) rotate(-90)" font-size="9.3" text-anchor="end" stroke="#0a0a0a" stroke-width="0.12" textLength="63.68" lengthAdjust="spacingAndGlyphs" fill="#0a0a0a">Dantrolene(D)</text>
<text transform="translate(574.95,405.00) rotate(-90)" font-size="9.3" text-anchor="end" stroke="#0a0a0a" stroke-width="0.12" textLength="58.31" lengthAdjust="spacingAndGlyphs" fill="#0a0a0a">Sitagliptin(S)</text>
<text transform="translate(593.16,405.00) rotate(-90)" font-size="9.3" text-anchor="end" stroke="#0a0a0a" stroke-width="0.12" textLength="16.91" lengthAdjust="spacingAndGlyphs" fill="#0a0a0a">D/S</text>
<text transform="translate(611.37,405.00) rotate(-90)" font-size="9.3" text-anchor="end" stroke="#0a0a0a" stroke-width="0.12" textLength="31.04" lengthAdjust="spacingAndGlyphs" fill="#0a0a0a">DMSO</text>
<text transform="translate(629.58,405.00) rotate(-90)" font-size="9.3" text-anchor="end" stroke="#0a0a0a" stroke-width="0.12" textLength="63.68" lengthAdjust="spacingAndGlyphs" fill="#0a0a0a">Dantrolene(D)</text>
<text transform="translate(647.79,405.00) rotate(-90)" font-size="9.3" text-anchor="end" stroke="#0a0a0a" stroke-width="0.12" textLength="58.31" lengthAdjust="spacingAndGlyphs" fill="#0a0a0a">Sitagliptin(S)</text>
<text transform="translate(666.00,405.00) rotate(-90)" font-size="9.3" text-anchor="end" stroke="#0a0a0a" stroke-width="0.12" textLength="16.91" lengthAdjust="spacingAndGlyphs" fill="#0a0a0a">D/S</text>
<text x="490.10" y="479.50" font-size="9.3" text-anchor="middle" stroke="#0a0a0a" stroke-width="0.12" textLength="12.80" lengthAdjust="spacingAndGlyphs" fill="#0a0a0a">UT</text>
<text x="562.40" y="479.50" font-size="9.3" text-anchor="middle" stroke="#0a0a0a" stroke-width="0.12" textLength="44.60" lengthAdjust="spacingAndGlyphs" fill="#0a0a0a">Cytokines</text>
<text x="638.30" y="479.50" font-size="9.3" text-anchor="middle" stroke="#0a0a0a" stroke-width="0.12" textLength="59.70" lengthAdjust="spacingAndGlyphs" fill="#0a0a0a">Thapsigargin</text>
<text transform="translate(409.90,388.40) rotate(-90)" font-size="9.2" text-anchor="middle" font-weight="bold" stroke="#111" stroke-width="0.25" textLength="126.30" lengthAdjust="spacingAndGlyphs" fill="#111">Relative Gene Expression</text>
<text transform="translate(422.20,389.20) rotate(-90)" font-size="9.2" text-anchor="middle" font-weight="bold" stroke="#111" stroke-width="0.2" textLength="76.00" lengthAdjust="spacingAndGlyphs" fill="#111">(fold over actin)</text>
</g>
</svg>
</body>
</html>
